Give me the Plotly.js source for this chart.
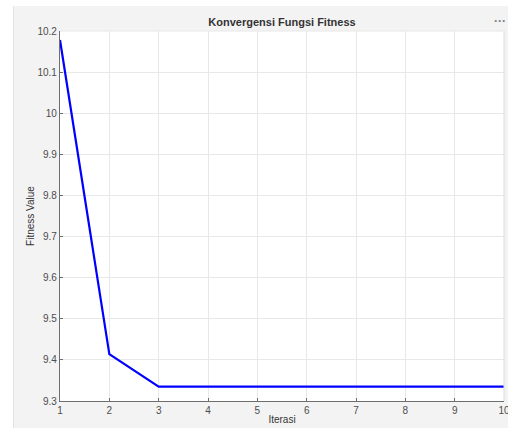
<!DOCTYPE html>
<html><head><meta charset="utf-8">
<script src="https://cdn.plot.ly/plotly-3.0.1.min.js"></script>
<style>
html,body{margin:0;padding:0;background:#ffffff;width:508px;height:428px;overflow:hidden;}
#chart{position:absolute;left:13px;top:6px;width:495px;height:422px;border-left:1px solid #e2e2e2;box-sizing:border-box;}
</style></head><body>
<div id="chart"></div>
<script>
const iterations = [1,2,3,4,5,6,7,8,9,10];
const fitness = [10.178,9.414,9.335,9.335,9.335,9.335,9.335,9.335,9.335,9.335];
const xTicks = [1,2,3,4,5,6,7,8,9,10];
const yTicks = [9.3,9.4,9.5,9.6,9.7,9.8,9.9,10,10.1,10.2];
const yTickLabels = ['9.3','9.4','9.5','9.6','9.7','9.8','9.9','10','10.1','10.2'];

const font = {family:'Liberation Sans, Arial, sans-serif', size:10, color:'#4d4d4d'};
const trace = {x:iterations, y:fitness, type:'scatter', mode:'lines',
  line:{color:'#0000ff', width:2.2}, hoverinfo:'x+y'};
const layout = {
  width:494, height:422,
  margin:{l:46,r:4,t:25,b:27},
  paper_bgcolor:'#f3f3f3', plot_bgcolor:'#ffffff',
  showlegend:false,
  font:font,
  title:{text:'<b>Konvergensi Fungsi Fitness</b>', font:{family:'Liberation Sans, Arial, sans-serif', size:11, color:'#333333'}, x:0.5, xref:'paper', y:1, yref:'paper', yanchor:'bottom', pad:{b:5}},
  xaxis:{range:[1,10], tickvals:xTicks, ticktext:xTicks.map(String), ticks:'inside', ticklen:3, tickcolor:'#6e6e6e',
    showgrid:true, gridcolor:'#e8e8e8', gridwidth:1, zeroline:false, ticklabeloverflow:'allow',
    showline:true, linecolor:'#6e6e6e', linewidth:1.2, mirror:false,
    title:{text:'Iterasi', font:{size:10, color:'#333333'}, standoff:0}, tickfont:{size:10,color:'#4d4d4d'}, automargin:false},
  yaxis:{range:[9.3,10.2], tickvals:yTicks, ticktext:yTickLabels, ticks:'inside', ticklen:3, tickcolor:'#6e6e6e',
    showgrid:true, gridcolor:'#e8e8e8', gridwidth:1, zeroline:false,
    showline:true, linecolor:'#6e6e6e', linewidth:1.2, mirror:false,
    title:{text:'Fitness Value', font:{size:10, color:'#333333'}, standoff:0}, tickfont:{size:10,color:'#4d4d4d'}, automargin:false},
  shapes:[
    {type:'line', xref:'paper', yref:'paper', x0:1, x1:1, y0:0, y1:1, line:{color:'#dcdcdc', width:1}},
    {type:'line', xref:'paper', yref:'paper', x0:0, x1:1, y0:1, y1:1, line:{color:'#e8e8e8', width:1}}
  ],
  annotations:[
    {text:'<b>···</b>', xref:'paper', yref:'paper', x:1, y:1, xanchor:'right', yanchor:'bottom', yshift:1, xshift:4, showarrow:false, font:{size:12, color:'#808080'}}
  ]
};
Plotly.newPlot('chart',[trace],layout,{displayModeBar:false, responsive:false});
</script>
</body></html>
